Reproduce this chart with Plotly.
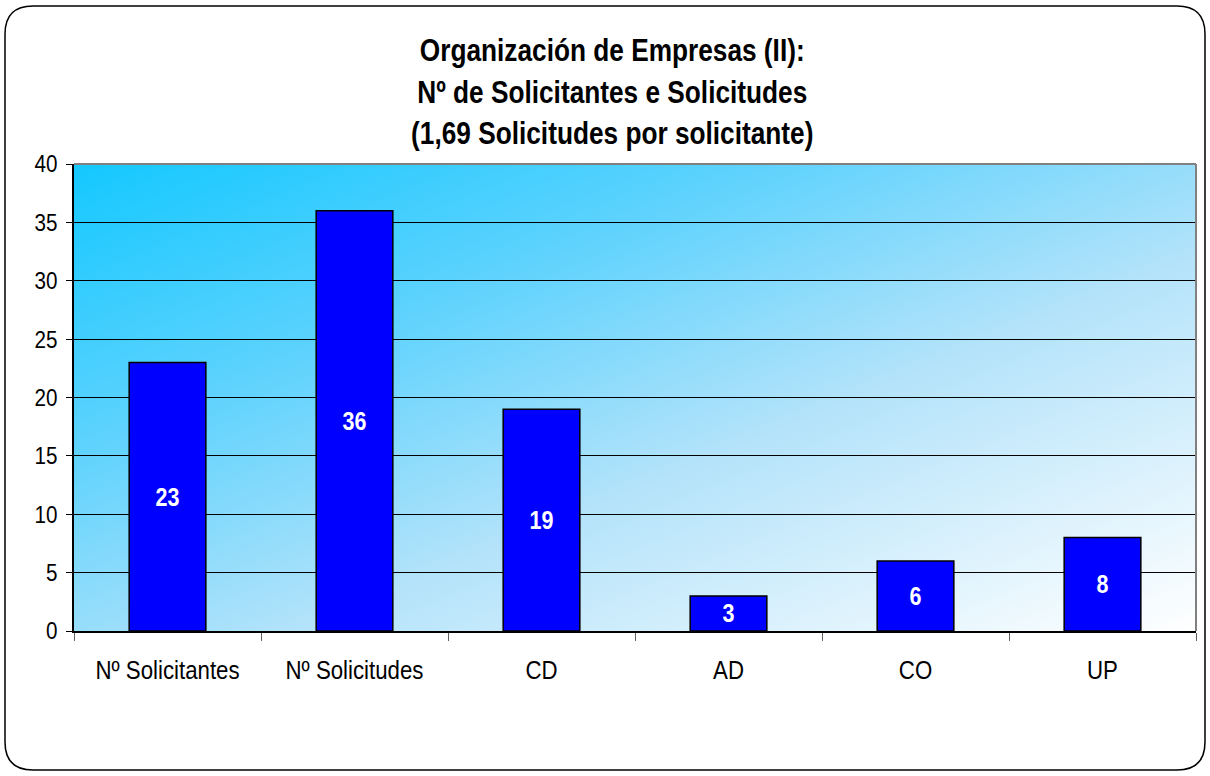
import base64
import plotly.graph_objects as go

categories = ["Nº Solicitantes", "Nº Solicitudes", "CD", "AD", "CO", "UP"]
values = [23, 36, 19, 3, 6, 8]
title_lines = ["Organización de Empresas (II):", "Nº de Solicitantes e Solicitudes",
               "(1,69 Solicitudes por solicitante)"]

FONT = "Liberation Sans, Arial, sans-serif"

W, H = 1210, 776
L, R, T, B = 74, 14, 164, 145
PW, PH = W - L - R, H - T - B

svg = f'''<svg xmlns="http://www.w3.org/2000/svg" width="{PW}" height="{PH}" viewBox="0 0 {PW} {PH}" preserveAspectRatio="none">
<defs><linearGradient id="g" x1="0" y1="0" x2="1" y2="1">
<stop offset="0" stop-color="#14C8FF"/>
<stop offset="0.3" stop-color="#5CD2FD"/>
<stop offset="0.6" stop-color="#B4E3FA"/>
<stop offset="1" stop-color="#FFFFFF"/>
</linearGradient></defs>
<rect x="0" y="0" width="{PW}" height="{PH}" fill="url(#g)"/></svg>'''
src = "data:image/svg+xml;base64," + base64.b64encode(svg.encode()).decode()

fig = go.Figure()
fig.add_trace(go.Bar(
    x=categories, y=values,
    marker=dict(color="#0000FF", line=dict(color="black", width=1.5)),
    text=[str(v) for v in values],
    textposition="inside", insidetextanchor="middle",
    textfont=dict(family=FONT, size=25, color="white", weight="bold"),
    textangle=0,
    hoverinfo="x+y",
))

def px(x):
    return (x - L) / PW

def py(y):
    return (H - B - y) / PH

# rounded outer border (pixel -> paper)
x0, x1, y0, y1, r = 5, 1205, 6, 770, 28
path = (f"M {px(x0+r)},{py(y0)} L {px(x1-r)},{py(y0)} Q {px(x1)},{py(y0)} {px(x1)},{py(y0+r)} "
        f"L {px(x1)},{py(y1-r)} Q {px(x1)},{py(y1)} {px(x1-r)},{py(y1)} "
        f"L {px(x0+r)},{py(y1)} Q {px(x0)},{py(y1)} {px(x0)},{py(y1-r)} "
        f"L {px(x0)},{py(y0+r)} Q {px(x0)},{py(y0)} {px(x0+r)},{py(y0)} Z")

fig.update_layout(
    width=W, height=H,
    margin=dict(l=L, r=R, t=T, b=B),
    paper_bgcolor="white",
    plot_bgcolor="rgba(0,0,0,0)",
    bargap=0.59,
    showlegend=False,
    font=dict(family=FONT, size=20, color="black"),
    title=dict(
        text="<br>".join(title_lines),
        x=0.506, xanchor="center", y=0.921, yanchor="top",
        font=dict(family=FONT, size=32, color="black", weight="bold"),
    ),
    images=[dict(source=src, xref="paper", yref="paper", x=0, y=1, sizex=1, sizey=1,
                 xanchor="left", yanchor="top", sizing="stretch", layer="below")],
    shapes=[
        dict(type="line", xref="paper", yref="paper", x0=0, x1=1, y0=1, y1=1,
             line=dict(color="#808080", width=2)),
        dict(type="line", xref="paper", yref="paper", x0=1, x1=1, y0=0, y1=1,
             line=dict(color="#808080", width=2)),
        dict(type="path", xref="paper", yref="paper", path=path,
             line=dict(color="black", width=1.5), fillcolor="rgba(0,0,0,0)"),
    ],
)
fig.update_yaxes(
    range=[0, 40], dtick=5, tick0=0,
    showgrid=True, gridcolor="black", gridwidth=1,
    showline=True, linecolor="black", linewidth=1.5,
    ticks="outside", ticklen=6, tickcolor="black",
    ticklabelstandoff=4,
    tickfont=dict(family=FONT, size=24, color="black"),
    zeroline=False, fixedrange=True,
)
fig.update_xaxes(
    showline=True, linecolor="black", linewidth=1.5,
    ticks="outside", tickson="boundaries", ticklen=8, tickcolor="#606060",
    ticklabelstandoff=16,
    tickfont=dict(family=FONT, size=25, color="black"),
    showgrid=False, fixedrange=True,
)

post = """
document.body.style.margin = '0';
var gd = document.getElementById('{plot_id}');
function squeeze(sel, s, anchor) {
  gd.querySelectorAll(sel).forEach(function (t) {
    var bb = t.getBBox();
    var cx = anchor === 'end' ? bb.x + bb.width : bb.x + bb.width / 2;
    var prev = t.getAttribute('transform') || '';
    t.setAttribute('transform', prev + ' translate(' + cx + ',0) scale(' + s + ',1) translate(' + (-cx) + ',0)');
  });
}
squeeze('.g-gtitle text', 0.82, 'middle');
squeeze('.xtick text', 0.89, 'middle');
squeeze('.ytick text', 0.86, 'end');
squeeze('text.bartext', 0.86, 'middle');
"""

fig.write_html("out.html", post_script=post, config={"displayModeBar": False})
